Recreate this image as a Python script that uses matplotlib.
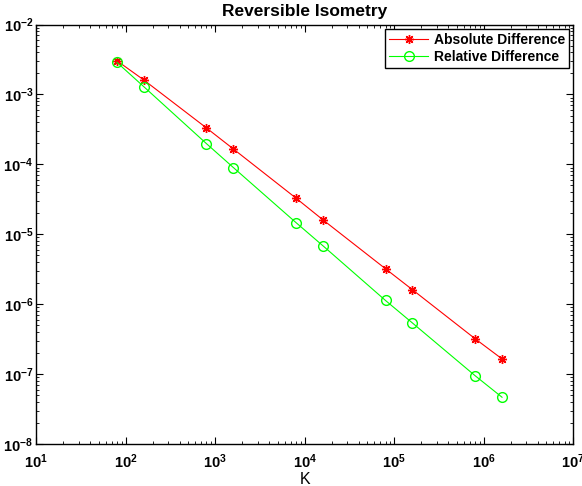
import matplotlib
matplotlib.use("Agg")
import matplotlib.pyplot as plt
from matplotlib.ticker import LogLocator, FuncFormatter, NullFormatter
import math

plt.rcParams['font.family'] = ['Liberation Sans', 'DejaVu Sans']
plt.rcParams['mathtext.fontset'] = 'custom'
plt.rcParams['mathtext.rm'] = 'Liberation Sans'
plt.rcParams['mathtext.bf'] = 'Liberation Sans:bold'

K = [80, 160, 800, 1600, 8000, 16000, 80000, 160000, 800000, 1600000]
abs_diff = [3.04e-3, 1.61e-3, 3.32e-4, 1.66e-4, 3.29e-5, 1.61e-5, 3.21e-6, 1.61e-6, 3.21e-7, 1.65e-7]
rel_diff = [2.88e-3, 1.29e-3, 1.98e-4, 9.0e-5, 1.47e-5, 6.85e-6, 1.13e-6, 5.38e-7, 9.5e-8, 4.67e-8]

fig = plt.figure(figsize=(5.82, 4.86), dpi=100)
ax = fig.add_axes([0.062, 0.0864, 0.923, 0.863])

# matlab style '*' = 8 spoke asterisk
ax.loglog(K, abs_diff, color=(1, 0, 0), marker=(8, 2, 0), markersize=6.5, lw=0.8,
          markeredgewidth=1.0, label='Absolute Difference')
ax.loglog(K, rel_diff, color=(0, 1, 0), marker='o', markersize=7, mfc='none',
          lw=0.8, label='Relative Difference')

ax.set_xlim(1e1, 1e7)
ax.set_ylim(1e-8, 1e-2)

def fmt(v, pos):
    e = int(round(math.log10(v)))
    return r'$\mathbf{10^{%d}}$' % e

for axis in (ax.xaxis, ax.yaxis):
    axis.set_major_locator(LogLocator(base=10, numticks=20))
    axis.set_minor_locator(LogLocator(base=10, subs=range(2, 10), numticks=20))
    axis.set_major_formatter(FuncFormatter(fmt))
    axis.set_minor_formatter(NullFormatter())

ax.tick_params(which='both', direction='in', top=True, right=True)
ax.tick_params(which='major', length=5, labelsize=10.5)
ax.tick_params(axis='x', which='major', pad=6)
ax.tick_params(axis='y', which='major', pad=2)
ax.tick_params(which='minor', length=2.5)
for s in ax.spines.values():
    s.set_linewidth(1.0)

ax.set_xlabel('K', fontsize=11.5, labelpad=1)
ax.set_title('Reversible Isometry', fontsize=12.5, fontweight='bold', pad=6)

leg = ax.legend(loc='upper right', prop={'weight': 'bold', 'size': 10},
                fancybox=False, edgecolor='black', framealpha=1,
                borderaxespad=0.3, handlelength=2.8, borderpad=0.3,
                labelspacing=0.2, handletextpad=0.4)
leg.get_frame().set_linewidth(1.0)

fig.savefig('out.png', dpi=100)
